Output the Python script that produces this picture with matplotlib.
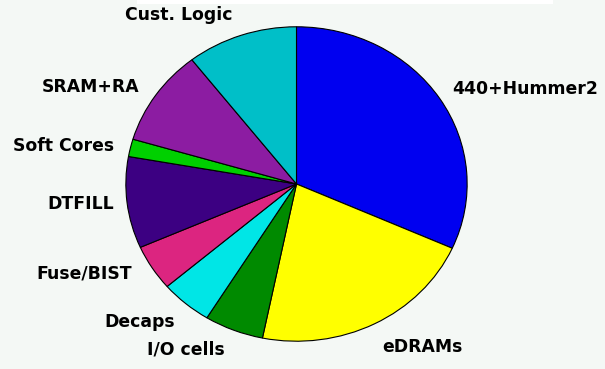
import matplotlib
matplotlib.use("Agg")
import matplotlib.pyplot as plt
from matplotlib.patches import Rectangle

# area breakdown (percent of die)
blocks = ["440+Hummer2", "eDRAMs", "I/O cells", "Decaps", "Fuse/BIST",
          "DTFILL", "Soft Cores", "SRAM+RA", "Cust. Logic"]
shares = [31.7, 21.5, 5.6, 4.9, 4.7, 9.4, 1.8, 9.9, 10.5]
colors = ["#0000f0", "#ffff00", "#008a00", "#00e6e6", "#dc2580",
          "#3c0082", "#00d000", "#8c1ca2", "#00bfc8"]

# label anchor points, in figure pixels (x, y from top)
label_pos = {
    "440+Hummer2": (525, 89),
    "eDRAMs": (422, 347),
    "I/O cells": (186, 350),
    "Decaps": (140, 322),
    "Fuse/BIST": (84, 274),
    "DTFILL": (81, 204),
    "Soft Cores": (64, 146),
    "SRAM+RA": (91, 87),
    "Cust. Logic": (179, 15),
}

W, H = 605, 369
bg = "#f4f8f5"
fig = plt.figure(figsize=(W / 100, H / 100), dpi=100, facecolor=bg)

# white strip along the top edge
fig.patches.append(Rectangle((137 / W, 1 - 4 / H), (553 - 137) / W, 4 / H,
                             transform=fig.transFigure, facecolor="white",
                             edgecolor="none", zorder=0))

# pie is slightly wider than tall
ax = fig.add_axes([125 / W, (H - 342) / H, 343 / W, 316 / H])
ax.pie(shares, colors=colors, startangle=90, counterclock=False,
       wedgeprops=dict(edgecolor="black", linewidth=0.8))
ax.set_aspect("auto")
ax.set_xlim(-1.005, 1.005)
ax.set_ylim(-1.005, 1.005)
ax.axis("off")

for name in blocks:
    x, y = label_pos[name]
    fig.text(x / W, 1 - y / H, name, ha="center", va="center",
             fontsize=12.4, fontweight="bold", family="DejaVu Sans",
             color="black")

fig.savefig("out.png", dpi=100, facecolor=bg)
